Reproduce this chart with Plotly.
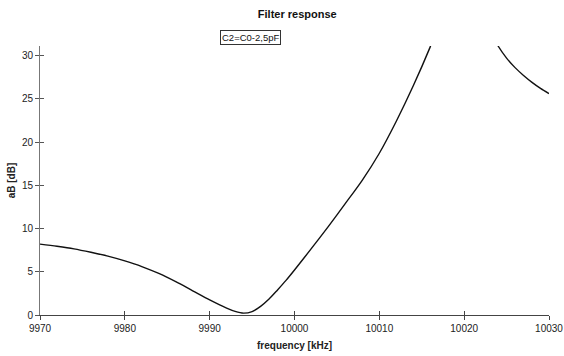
import plotly.graph_objects as go

freq_khz = [9970, 9972, 9974, 9976, 9978, 9980, 9982, 9984, 9986, 9988, 9990,
            9992, 9993, 9994, 9995, 9996, 9997, 9998, 9999, 10000, 10002, 10004,
            10006, 10008, 10010, 10012, 10014, 10016, 10017,
            10023, 10024, 10025, 10026, 10027, 10028, 10029, 10030]
attenuation_db = [8.2, 7.95, 7.65, 7.25, 6.8, 6.25, 5.6, 4.8, 3.85, 2.8, 1.75,
                  0.8, 0.42, 0.22, 0.4, 1.0, 1.85, 2.9, 4.0, 5.2, 7.7, 10.25,
                  12.9, 15.6, 18.7, 22.4, 26.5, 31.0, 33.5,
                  33.0, 31.1, 29.7, 28.6, 27.7, 26.9, 26.2, 25.6]

x_ticks = [9970, 9980, 9990, 10000, 10010, 10020, 10030]
y_ticks = [0, 5, 10, 15, 20, 25, 30]

title_text = "Filter response"
note_text = "C2=C0-2,5pF"
x_title = "frequency [kHz]"
y_title = "aB [dB]"

FONT = "Liberation Sans Narrow, Liberation Sans, Arial, sans-serif"

fig = go.Figure()
fig.add_trace(go.Scatter(x=freq_khz, y=attenuation_db, mode="lines",
                         line=dict(color="#111111", width=1.4, shape="spline", smoothing=0.8),
                         hoverinfo="skip", showlegend=False))
# invisible trace to draw inside half of cross tick marks
fig.add_trace(go.Scatter(x=[x_ticks[0]], y=[y_ticks[0]], xaxis="x2", yaxis="y2",
                         mode="markers", marker=dict(opacity=0), showlegend=False,
                         hoverinfo="skip"))

xr = [9970, 10030]
yr = [0, 31.1]

fig.update_layout(
    width=564, height=356,
    margin=dict(l=40, r=15, t=46, b=41, autoexpand=False),
    paper_bgcolor="white", plot_bgcolor="white",
    font=dict(family=FONT, size=10, color="#222222"),
    title=dict(text="<b>" + title_text + "</b>", x=0.527, xanchor="center",
               y=1 - 14 / 356, yanchor="middle", automargin=False,
               font=dict(family=FONT, size=11, color="#111111")),
    xaxis=dict(range=xr, tickvals=x_ticks, ticktext=[str(v) for v in x_ticks],
               showgrid=False, zeroline=False, showline=True, linecolor="#444444",
               linewidth=1, ticks="outside", ticklen=4, tickcolor="#444444",
               automargin=False,
               title=dict(text="<b>" + x_title + "</b>", font=dict(family=FONT, size=10),
                          standoff=8),
               tickfont=dict(family=FONT, size=10)),
    yaxis=dict(range=yr, tickvals=y_ticks, ticktext=[str(v) for v in y_ticks],
               showgrid=False, zeroline=False, showline=True, linecolor="#777777",
               linewidth=1, ticks="outside", ticklen=4, tickcolor="#555555",
               automargin=False,
               title=dict(text="<b>" + y_title + "</b>", font=dict(family=FONT, size=10),
                          standoff=4),
               tickfont=dict(family=FONT, size=10)),
    xaxis2=dict(range=xr, tickvals=x_ticks, overlaying="x", side="bottom",
                showticklabels=False, showgrid=False, zeroline=False, showline=False,
                ticks="inside", ticklen=4, tickcolor="#444444"),
    yaxis2=dict(range=yr, tickvals=y_ticks, overlaying="y", side="left",
                showticklabels=False, showgrid=False, zeroline=False, showline=False,
                ticks="inside", ticklen=4, tickcolor="#555555"),
    annotations=[dict(text=note_text, xref="paper", yref="paper",
                      x=(250 - 40) / 509, y=1 + (46 - 37) / 269,
                      xanchor="center", yanchor="middle", showarrow=False,
                      font=dict(family=FONT, size=9.5, color="#111111"),
                      bordercolor="#333333", borderwidth=1, borderpad=1,
                      bgcolor="white")],
)

fig.write_html("out.html", config={"displayModeBar": False},
               post_script="document.body.style.margin='0';document.body.style.overflow='hidden';")
